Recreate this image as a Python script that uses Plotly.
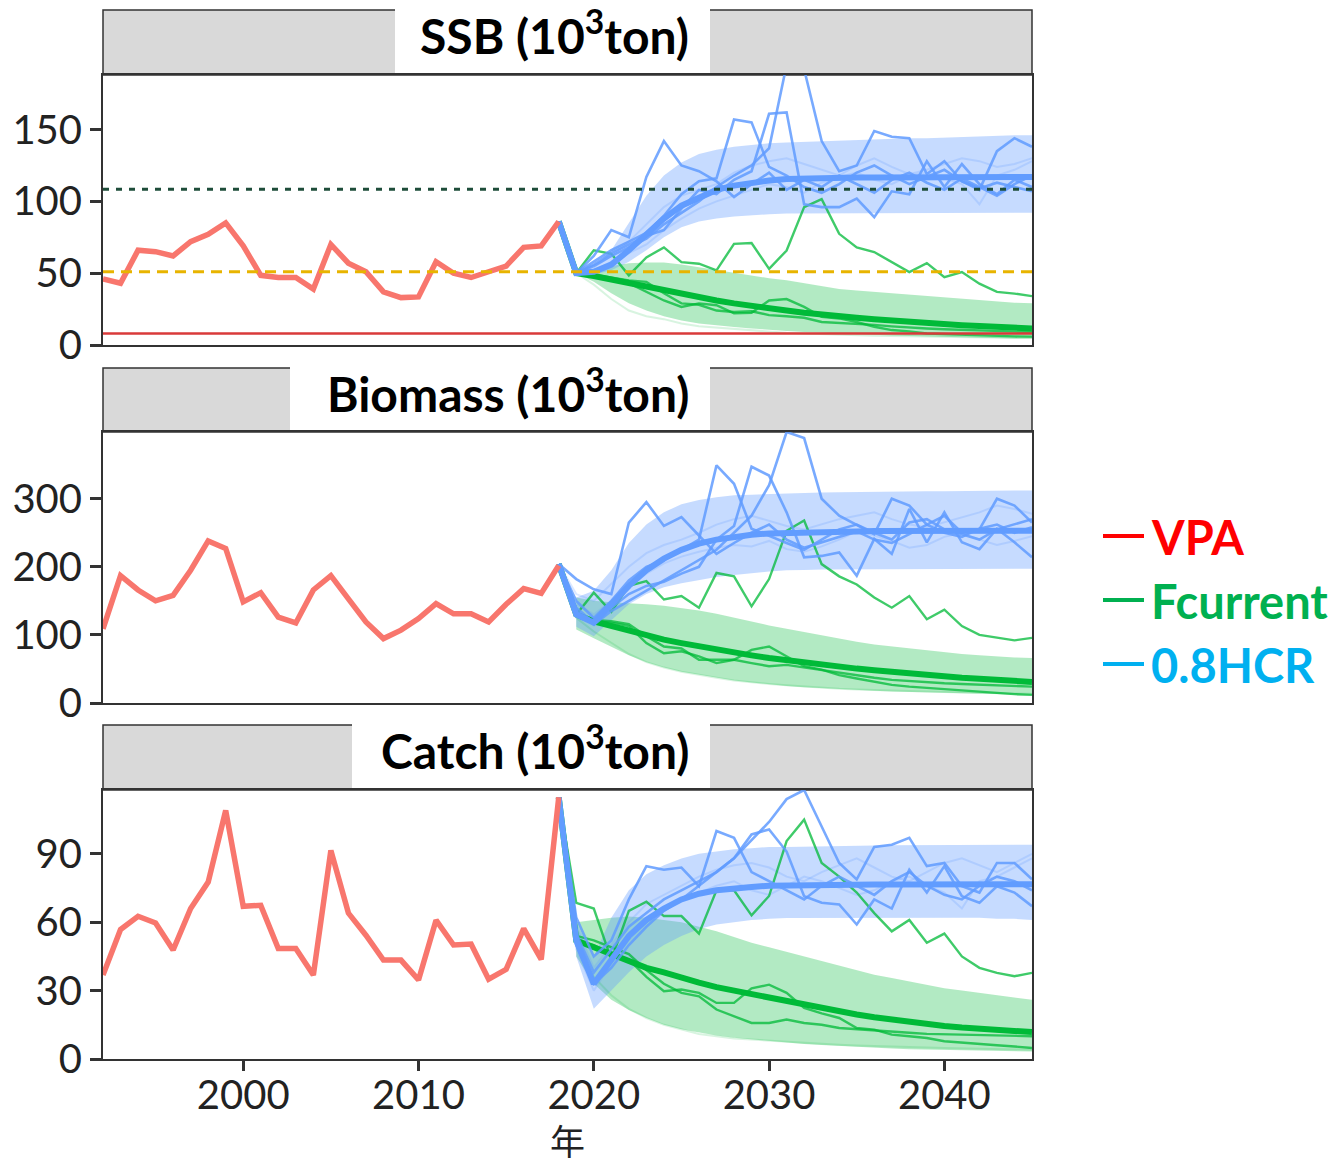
import plotly.graph_objects as go


W, H = 1343, 1165
PAGE_OFFSET = 8  # body margin of the html page

RED = "#F8766D"
BLUE = "#619CFF"
GREEN = "#00BA38"
BLUE_BAND = "rgba(97,156,255,0.36)"
GREEN_BAND = "rgba(0,186,56,0.30)"
AXIS = "#333333"
TICK_FONT = "Lato"
TITLE_FONT = "Lato"

VPA_YEARS = list(range(1992, 2019))
PROJ_YEARS = list(range(2018, 2046))
BAND_YEARS = list(range(2019, 2046))

# ---- SSB ----
SSB_VPA = [46, 43, 66, 65, 62, 72, 77, 85, 69, 48.5, 47, 47, 39, 70, 57, 51,
           37, 33, 33.5, 58, 50, 47, 51, 55, 68, 69, 86]
SSB_TARGET = 108.5
SSB_LIMIT = 51
SSB_BAN = 8

SSB_HCR_MED = [86, 50, 51, 56, 66, 77, 88, 97, 103, 108, 111, 113, 114.5, 115.5,
               116, 116.3, 116.5, 116.6, 116.7, 116.8, 116.8, 116.9, 116.9, 117,
               117, 117, 117, 117]
SSB_HCR_HI = [50, 54, 66, 85, 104, 118, 127, 133, 136, 138, 139.5, 140.5, 141,
              141.5, 142, 142.5, 143, 143, 143.5, 144, 144, 144.5, 145, 145, 145.5,
              146, 146]
SSB_HCR_LO = [50, 49, 52, 58, 66, 75, 82, 86, 88, 89.5, 90.5, 91, 91.5, 91.5, 92,
              92, 92, 92, 92, 92, 92, 92, 92, 92, 92, 92, 92]
SSB_HCR_SIMS = [
    [86, 50, 62, 80, 75, 117, 142, 125, 121, 114, 103, 112, 120, 108, 115, 110,
     118, 112, 106, 115, 120, 113, 108, 116, 110, 104, 112, 118],
    [86, 50, 58, 66, 72, 78, 90, 105, 114, 116, 157, 155, 124, 118, 110, 106, 112,
     120, 125, 118, 112, 117, 122, 114, 109, 113, 110, 107],
    [86, 50, 56, 64, 70, 76, 80, 95, 108, 105, 115, 121, 161, 162, 98, 96, 96, 102,
     89, 107, 105, 128, 110, 126, 112, 105, 115, 110],
    [86, 50, 55, 62, 68, 74, 84, 92, 100, 110, 118, 125, 137, 195, 192, 142, 121,
     125, 149, 145, 144, 119, 128, 114, 108, 135, 144, 138],
]
SSB_HCR_FADED = [
    [86, 50, 54, 62, 72, 84, 96, 104, 108, 112, 120, 125, 128, 130, 126, 122, 118,
     125, 130, 124, 119, 122, 126, 130, 128, 124, 126, 130],
    [86, 50, 52, 58, 64, 70, 80, 88, 95, 100, 104, 108, 112, 110, 106, 113, 117,
     120, 115, 112, 118, 120, 116, 112, 98, 118, 122, 128],
]
SSB_FC_MED = [86, 50, 48, 45.5, 43, 40, 37.5, 35, 33, 31, 29, 27, 25.5, 24, 22.5,
              21, 20, 19, 18, 17, 16, 15.2, 14.5, 13.8, 13.2, 12.5, 12, 11.5]
SSB_FC_HI = [50, 52, 55, 57, 57.5, 57.5, 56, 54, 52, 50, 48, 46.5, 45, 43, 41, 39,
             38, 37, 36, 35, 34, 33, 32, 31, 30, 29.5, 29]
SSB_FC_LO = [50, 44, 36, 29, 24, 20, 17, 15, 13.5, 12.5, 11.5, 10.5, 9.8, 9, 8.5,
             8, 7.5, 7, 6.6, 6.2, 5.9, 5.6, 5.3, 5, 4.8, 4.6, 4.5]
SSB_FC_SIMS = [
    [86, 50, 66, 63.5, 48.5, 61, 68, 57.7, 56.6, 52, 70.4, 71, 53, 65.8, 96, 101.6,
     77.4, 68, 64.7, 57.7, 50.8, 57, 47.3, 50.8, 42.7, 37, 35.8, 34],
    [86, 50, 48, 46, 43, 37, 31, 26.5, 29, 27.7, 22, 22.4, 31, 32, 26.5, 19.6, 18.5,
     16, 12.7, 10.4, 9.5, 8, 7.5, 7, 6.6, 6.3, 6, 5.8],
    [86, 50, 49, 47, 45, 44, 36, 29, 28, 24, 23, 23.5, 20.8, 20, 19, 16, 15.5, 14.5,
     14, 13, 12, 11.5, 11, 10.5, 10, 9.5, 9.2, 9],
]
SSB_FC_FADED = [
    [86, 50, 42, 32, 24, 20, 18, 15, 13, 12, 11, 10, 9, 8.5, 8, 7.5, 7, 6.8, 6.5,
     6.2, 6, 5.8, 5.6, 5.4, 5.2, 5, 4.9, 4.8],
]

# ---- Biomass ----
BIO_VPA = [109, 187, 166, 150, 158, 195, 238, 227, 148.5, 162, 126, 117.6, 166,
           187, 153, 119, 94.6, 107, 124, 146, 131, 131, 119, 145, 168, 161, 202]
BIO_HCR_MED = [204, 130, 118, 145, 172, 195, 212, 225, 234, 240, 244, 247, 249, 250,
               251, 251.5, 252, 252, 252.5, 252.5, 253, 253, 253, 253, 253, 253,
               253, 253]
BIO_HCR_HI = [155, 165, 195, 235, 262, 280, 292, 298, 302, 305, 306, 307, 308,
              308.5, 309, 309.5, 310, 310, 310.5, 311, 311, 311, 311.5, 312, 312,
              312, 312]
BIO_HCR_LO = [112, 98, 122, 145, 160, 170, 176, 181, 185, 188, 191, 193, 195, 195.5,
              196, 196, 196, 196.5, 196.5, 197, 197, 197, 197, 197, 197, 197, 197]
BIO_HCR_SIMS = [
    [204, 182, 167, 160, 265, 295, 260, 273, 246, 219, 235, 250, 262, 240, 228, 236,
     245, 252, 240, 235, 248, 262, 250, 244, 256, 262, 250, 258],
    [204, 150, 125, 150, 180, 200, 210, 225, 240, 349, 322, 256, 245, 235, 225, 240,
     255, 262, 250, 240, 265, 270, 255, 248, 240, 255, 262, 270],
    [204, 140, 118, 140, 160, 172, 178, 190, 200, 240, 260, 347, 334, 280, 214, 216,
     221, 187, 241, 219, 285, 236, 280, 236, 226, 256, 236, 214],
    [204, 135, 115, 135, 150, 165, 180, 195, 210, 225, 250, 275, 320, 398, 389, 300,
     275, 262, 248, 300, 290, 262, 275, 250, 255, 300, 290, 265],
]
BIO_HCR_FADED = [
    [204, 160, 150, 175, 200, 220, 232, 240, 250, 262, 270, 275, 268, 260, 255, 262,
     270, 275, 280, 270, 262, 258, 265, 272, 280, 290, 285, 278],
    [204, 145, 130, 150, 170, 190, 205, 215, 222, 228, 232, 230, 238, 226, 222, 230,
     240, 252, 246, 238, 228, 232, 244, 250, 240, 232, 238, 245],
]
BIO_FC_MED = [204, 130, 120, 113, 106, 99, 93, 88, 83, 78, 74, 70, 66, 62.5, 59, 56,
              53, 50.5, 48, 45.5, 43, 41, 39, 37, 35.5, 34, 32.5, 31]
BIO_FC_HI = [155, 150, 148, 147, 145, 143, 140, 136, 131, 125, 119, 114, 109, 104,
             99, 94, 90, 86, 83, 80, 77, 75, 72, 70, 68, 67, 66]
BIO_FC_LO = [108, 95, 82, 70, 60, 52, 46, 41, 37, 33, 30, 27, 25, 23, 21.5, 20, 19,
             18, 17, 16, 15, 14.5, 14, 13.5, 13, 12.5, 12]
BIO_FC_SIMS = [
    [204, 130, 162, 134, 172, 179, 152, 157, 140, 191, 186, 142, 182, 253, 268, 204,
     186, 174, 155, 140, 157, 123, 137, 113, 100, 95.6, 92, 95.6],
    [204, 130, 120, 118, 113, 88, 73, 76, 68.5, 58.6, 63.5, 78, 83, 68.5, 54, 49, 41,
     36, 31.5, 26.6, 24, 22, 20, 18, 16, 14.5, 13, 12],
    [204, 130, 122, 120, 116, 98, 83, 80, 63.5, 63.5, 63.5, 58.6, 54, 56, 52, 48, 44,
     40, 37, 34, 32, 30, 29, 28, 27, 26, 25, 24],
]
BIO_FC_FADED = [
    [204, 125, 105, 88, 72, 60, 52, 46, 41, 37, 33, 30, 28, 26, 24, 22.5, 21, 20, 19,
     18, 17, 16.5, 16, 15.5, 15, 14.5, 14, 13.5],
]

# ---- Catch ----
CATCH_VPA = [36.8, 56.8, 62.6, 59.7, 47.8, 66, 77.6, 109, 67, 67.4, 48.5, 48.5,
             36.8, 91.5, 64, 54.3, 43.4, 43.4, 34.7, 60.9, 50, 50.4, 35, 39.3, 57.2,
             43.7, 114.8]
CATCH_HCR_MED = [114.8, 52, 33, 44, 54, 61, 66, 70, 72.5, 74, 75, 75.5, 76, 76.2,
                 76.4, 76.5, 76.5, 76.6, 76.6, 76.6, 76.7, 76.7, 76.7, 76.7, 76.7,
                 76.7, 76.7, 76.7]
CATCH_HCR_HI = [60, 45, 62, 74, 81, 85, 88, 90, 91, 92, 92.5, 93, 93, 93.2, 93.4,
                93.5, 93.6, 93.7, 93.8, 93.8, 93.9, 94, 94, 94, 94, 94, 94]
CATCH_HCR_LO = [45, 22, 30, 38, 45, 50, 54, 57, 59, 60, 61, 61.5, 61.8, 62, 62, 62,
                62, 62, 62, 62, 62, 62, 62, 62, 61.5, 61.5, 61]
CATCH_HCR_SIMS = [
    [114.8, 62, 45, 52, 70, 84.6, 83, 84, 75.8, 100, 97, 82, 78, 74, 70, 76, 80, 76,
     72, 78, 82, 76, 72, 70, 76, 80, 78, 74],
    [114.8, 55, 38, 48, 58, 64, 70, 74, 78, 82, 88, 98.5, 100.7, 91, 71.4, 68.5,
     67.8, 59, 70, 66, 83, 73, 84.6, 71.4, 68.5, 75.8, 73, 67],
    [114.8, 50, 33, 40, 50, 58, 65, 70, 76, 82, 88, 96, 104, 114, 118, 102, 86, 78.8,
     93, 94, 97, 84.6, 86, 75.8, 73, 86, 86, 78.8],
]
CATCH_HCR_FADED = [
    [114.8, 58, 40, 50, 60, 68, 72, 76, 80, 83, 85, 86, 84, 80, 78, 82, 85, 88, 84,
     80, 78, 82, 86, 88, 85, 82, 86, 90],
    [114.8, 48, 30, 42, 52, 60, 66, 70, 73, 76, 78, 74, 72, 76, 80, 78, 75, 72, 74,
     78, 80, 76, 73, 66, 78, 80, 84, 88],
]
CATCH_FC_MED = [114.8, 52, 49, 46, 43, 40, 38, 35.5, 33.5, 31.5, 30, 28, 26.5, 25,
                23.5, 22, 20.5, 19.5, 18.3, 17.2, 16.2, 15.3, 14.5, 13.8, 13.2, 12.6,
                12.2, 11.8]
CATCH_FC_HI = [60, 61, 62, 62.5, 62, 61, 60, 58, 56, 53.5, 51, 49, 47, 45, 43, 41,
               39, 37, 35.5, 34, 32.5, 31, 30, 29, 28, 27, 26]
CATCH_FC_LO = [45, 33, 26, 21.5, 18, 15, 13, 11.5, 10.3, 9.3, 8.5, 7.8, 7.2, 6.6,
               6.1, 5.6, 5.2, 4.9, 4.6, 4.3, 4.1, 3.9, 3.7, 3.6, 3.5, 3.4, 3.3]
CATCH_FC_SIMS = [
    [114.8, 68.5, 66, 43.6, 65, 69, 62.7, 62.7, 55, 74, 74, 63, 71.5, 95.6, 105, 86,
     80, 73, 64, 56, 61, 51, 55, 45, 40, 37.8, 36.3, 37.8],
    [114.8, 52, 50, 46, 43.6, 36, 29.7, 30.5, 29, 24.6, 24.6, 31, 32.6, 29, 22.4, 20,
     18, 13.6, 12.9, 10.7, 10, 9.2, 7.8, 7.2, 6.3, 6, 5.5, 4.8],
    [114.8, 54, 52, 49, 46, 39, 33, 29, 27.5, 21.7, 18.7, 15.8, 15.8, 17.3, 15.8, 15,
     13.6, 13, 12.5, 12, 11.5, 11, 10.8, 10.5, 10.3, 10.2, 10.1, 10],
]
CATCH_FC_FADED = [
    [114.8, 50, 36, 28, 22, 18, 15, 13, 11, 10, 9, 8.5, 8, 7.5, 7, 6.6, 6.2, 5.9,
     5.6, 5.4, 5.2, 5, 4.8, 4.6, 4.4, 4.3, 4.2, 4.1],
]

PANEL_TITLES = ["SSB (10<sup>3</sup>ton)", "Biomass (10<sup>3</sup>ton)",
                "Catch (10<sup>3</sup>ton)"]
Y_RANGES = [188, 398, 118]
Y_DTICKS = [50, 100, 30]
X_RANGE = [1992, 2045]
X_TICKS = [2000, 2010, 2020, 2030, 2040]
LEGEND_LABELS = ["VPA", "Fcurrent", "0.8HCR"]
LEGEND_COLORS = ["#FF0000", "#00B050", "#00B0F0"]

# pixel layout of the three panels (top, bottom of plot area; strip top; title box left)
PX_LEFT, PX_RIGHT = 103, 1032
PANELS_PX = [(75, 345, 10, 395), (432, 703, 368, 290), (790, 1059, 725, 352)]


def px_x(p):
    return (p - PAGE_OFFSET) / W


def px_y(p):
    return 1 - (p - PAGE_OFFSET) / H


def line(x, y, color, width, xa, ya, opacity=1.0):
    return go.Scatter(
        x=x, y=y, mode="lines",
        line=dict(color=color, width=width),
        opacity=opacity, xaxis=xa, yaxis=ya,
        showlegend=False, hoverinfo="skip",
    )


def band(lo, hi, color, xa, ya):
    return go.Scatter(
        x=BAND_YEARS + BAND_YEARS[::-1], y=hi + lo[::-1],
        mode="lines", line=dict(width=0), fill="toself", fillcolor=color,
        xaxis=xa, yaxis=ya, showlegend=False, hoverinfo="skip",
    )


fig = go.Figure()

panels = [
    (SSB_VPA, SSB_HCR_MED, SSB_HCR_LO, SSB_HCR_HI, SSB_HCR_SIMS, SSB_HCR_FADED,
     SSB_FC_MED, SSB_FC_LO, SSB_FC_HI, SSB_FC_SIMS, SSB_FC_FADED),
    (BIO_VPA, BIO_HCR_MED, BIO_HCR_LO, BIO_HCR_HI, BIO_HCR_SIMS, BIO_HCR_FADED,
     BIO_FC_MED, BIO_FC_LO, BIO_FC_HI, BIO_FC_SIMS, BIO_FC_FADED),
    (CATCH_VPA, CATCH_HCR_MED, CATCH_HCR_LO, CATCH_HCR_HI, CATCH_HCR_SIMS,
     CATCH_HCR_FADED, CATCH_FC_MED, CATCH_FC_LO, CATCH_FC_HI, CATCH_FC_SIMS,
     CATCH_FC_FADED),
]

shapes = []
annotations = []

for i, p in enumerate(panels):
    (vpa, h_med, h_lo, h_hi, h_sims, h_faded,
     f_med, f_lo, f_hi, f_sims, f_faded) = p
    xa = "x" if i == 0 else f"x{i + 1}"
    ya = "y" if i == 0 else f"y{i + 1}"

    fig.add_trace(band(f_lo, f_hi, GREEN_BAND, xa, ya))
    fig.add_trace(band(h_lo, h_hi, BLUE_BAND, xa, ya))

    if i == 0:
        for val, col, dash, w in [(SSB_TARGET, "#1E4D3A", "6px,7px", 3),
                                  (SSB_LIMIT, "#E8B400", "11px,7px", 3),
                                  (SSB_BAN, "#D93A3A", "solid", 2.5)]:
            shapes.append(dict(
                type="line", xref="x domain", yref="y", x0=0, x1=1,
                y0=val, y1=val, line=dict(color=col, width=w, dash=dash),
                layer="above",
            ))

    for s in f_faded:
        fig.add_trace(line(PROJ_YEARS, s, GREEN, 2, xa, ya, opacity=0.15))
    for s in h_faded:
        fig.add_trace(line(PROJ_YEARS, s, BLUE, 2, xa, ya, opacity=0.22))
    for s in f_sims:
        fig.add_trace(line(PROJ_YEARS, s, GREEN, 2.4, xa, ya, opacity=0.75))
    fig.add_trace(line(PROJ_YEARS, f_med, GREEN, 6, xa, ya))
    for s in h_sims:
        fig.add_trace(line(PROJ_YEARS, s, BLUE, 2.6, xa, ya, opacity=0.85))
    fig.add_trace(line(PROJ_YEARS, h_med, BLUE, 6, xa, ya))
    fig.add_trace(line(VPA_YEARS, vpa, RED, 5.5, xa, ya))

    top, bottom, strip_top, box_left = PANELS_PX[i]
    key = "" if i == 0 else str(i + 1)
    fig.layout["xaxis" + key] = dict(
        domain=[px_x(PX_LEFT), px_x(PX_RIGHT)], range=X_RANGE,
        anchor=ya, tickvals=X_TICKS, showticklabels=(i == 2),
        ticks="outside" if i == 2 else "", ticklen=10, tickwidth=2.5,
        tickcolor=AXIS, showgrid=False, zeroline=False, automargin=False,
        showline=True, linecolor=AXIS, linewidth=2, mirror=True,
        ticklabelstandoff=-10,
        tickfont=dict(family=TICK_FONT, size=40, color="#222222"),
    )
    fig.layout["yaxis" + key] = dict(
        domain=[px_y(bottom), px_y(top)], range=[0, Y_RANGES[i]],
        anchor=xa, dtick=Y_DTICKS[i], ticks="outside", ticklen=11,
        tickwidth=2.5, tickcolor=AXIS, showgrid=False, zeroline=False,
        automargin=False,
        showline=True, linecolor=AXIS, linewidth=2, mirror=True,
        tickfont=dict(family=TICK_FONT, size=40, color="#222222"),
    )

    # strip
    shapes.append(dict(
        type="rect", xref="paper", yref="paper",
        x0=px_x(PX_LEFT), x1=px_x(PX_RIGHT), y0=px_y(top), y1=px_y(strip_top),
        fillcolor="#D9D9D9", line=dict(color=AXIS, width=1.5), layer="below",
    ))
    shapes.append(dict(
        type="rect", xref="paper", yref="paper",
        x0=px_x(box_left), x1=px_x(710), y0=px_y(top - 2), y1=px_y(strip_top - 1),
        fillcolor="white", line=dict(width=0), layer="below",
    ))
    annotations.append(dict(
        xref="paper", yref="paper", x=px_x(691),
        y=px_y((top + strip_top) / 2 - 10),
        xanchor="right", yanchor="middle", showarrow=False,
        text="<b>" + PANEL_TITLES[i] + "</b>",
        font=dict(family=TITLE_FONT, size=48, color="black"),
    ))

# x-axis title
annotations.append(dict(
    xref="paper", yref="paper", x=px_x(567), y=px_y(1139),
    xanchor="center", yanchor="middle", showarrow=False, text="年",
    font=dict(family="Noto Sans CJK JP", size=35, color="#222222"),
))

# legend
for k, (lab, col) in enumerate(zip(LEGEND_LABELS, LEGEND_COLORS)):
    yc = 536 + 64 * k
    shapes.append(dict(
        type="line", xref="paper", yref="paper",
        x0=px_x(1103), x1=px_x(1144), y0=px_y(yc), y1=px_y(yc),
        line=dict(color=col, width=4),
    ))
    annotations.append(dict(
        xref="paper", yref="paper", x=px_x(1149), y=px_y(yc + 1),
        xanchor="left", yanchor="middle", showarrow=False,
        text="<b>" + lab + "</b>",
        font=dict(family=TITLE_FONT, size=47, color=col),
    ))

fig.update_layout(
    width=W, height=H,
    margin=dict(l=0, r=0, t=0, b=0, autoexpand=False),
    paper_bgcolor="white", plot_bgcolor="white",
    showlegend=False,
    shapes=shapes, annotations=annotations,
)

fig.write_html("out.html")
